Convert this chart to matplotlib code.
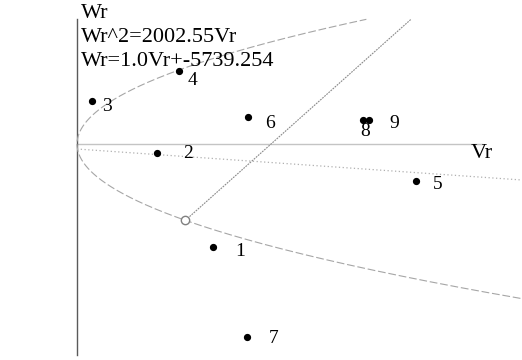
import numpy as np
import matplotlib
matplotlib.use("Agg")
import matplotlib.pyplot as plt

# Observations (Vr, Wr)
point_labels = ["1", "2", "3", "4", "5", "6", "7", "8", "9"]
vr_values = [4020, 2370, 440, 3020, 10030, 5060, 5030, 8460, 8640]
wr_values = [-3420, -300, 1430, 2420, -1230, 900, -6410, 800, 800]

# Parabola Wr^2 = k*Vr and line Wr = m*Vr + c
k_parab = 2002.55
m_line = 1.0
c_line = -5739.254

# Reference (dotted) line endpoints
ref_vr = [0, 13163]
ref_wr = [-166, -1195]

font = "Liberation Serif"

fig = plt.figure(figsize=(5.22, 3.60), dpi=100)
ax = fig.add_axes([0, 0, 1, 1])
ax.set_xlim(-2278, 13163)
ax.set_ylim(-7171, 4781)
ax.axis("off")

w_top = 4140  # upper limit of the drawn curves

# axes lines
ax.plot([0, 11980], [0, 0], color="#c4c4c4", lw=1.0)
ax.plot([0, 0], [-7005, w_top], color="#5a5a5a", lw=1.0)

# parabola
w = np.linspace(-5125, w_top, 400)
ax.plot(w**2 / k_parab, w, color="#a6a6a6", lw=0.8, ls=(0, (7, 2.5)))

# intersection of line with lower branch of parabola
disc = np.sqrt(k_parab**2 - 4 * k_parab * c_line)
w_int = (k_parab - disc) / 2
v_int = (w_int - c_line) / m_line
v_end = (w_top - c_line) / m_line
ax.plot([v_int, v_end], [w_int, m_line * v_end + c_line], color="#8a8a8a",
        lw=0.8, ls=(0, (1.6, 0.9)))
ax.plot([v_int], [w_int], marker="o", ms=6, mfc="white", mec="#808080", mew=1.0)

# reference dotted line
ax.plot(ref_vr, ref_wr, color="#b0b0b0", lw=0.9, ls=(0, (1, 2)))

# points
ax.plot(vr_values, wr_values, "o", color="black", ms=4.2, ls="none")

offsets = {"1": (27, -4), "2": (31, 0), "3": (15, -6), "4": (13, -9),
           "5": (22, -3), "6": (22, -7), "7": (27, -1), "8": (2, -12),
           "9": (25, -4)}
for lab, v, wv in zip(point_labels, vr_values, wr_values):
    dx, dy = offsets[lab]
    ax.annotate(lab, (v, wv), xytext=(dx, dy), textcoords="offset pixels",
                ha="center", va="center", fontsize=14, family=font)

# axis titles and equations
ax.text(81 / 522, 1 - 13 / 360, "Wr", transform=ax.transAxes, ha="left",
        va="center", fontsize=16, family=font)
ax.text(81 / 522, 1 - 37 / 360, "Wr^2=2002.55Vr", transform=ax.transAxes,
        ha="left", va="center", fontsize=16, family=font)
ax.text(81 / 522, 1 - 62 / 360, "Wr=1.0Vr+-5739.254", transform=ax.transAxes,
        ha="left", va="center", fontsize=16, family=font)
ax.text(482 / 522, 1 - 154 / 360, "Vr", transform=ax.transAxes, ha="center",
        va="center", fontsize=16, family=font)

fig.savefig("out.png", dpi=100)
